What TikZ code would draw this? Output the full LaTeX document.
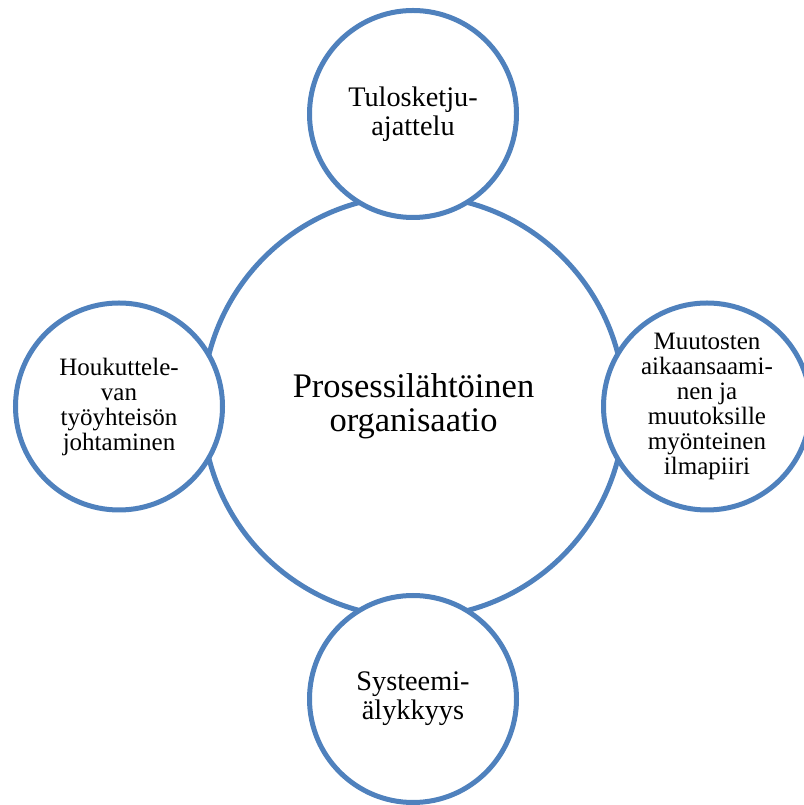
\documentclass[tikz,border=0pt]{standalone}
\usepackage{fontspec}
\setmainfont{Liberation Serif}
\definecolor{ringblue}{RGB}{79,129,189}
\begin{document}
\begin{tikzpicture}[x=1pt,y=1pt,
  ring/.style={circle,draw=ringblue,line width=5pt,fill=white,inner sep=0pt,align=center},
  bigring/.style={ring,minimum size=422pt,font=\fontsize{34.5}{34}\selectfont},
  midring/.style={ring,minimum size=207pt,font=\fontsize{28.3}{29}\selectfont},
  smallring/.style={ring,minimum size=207pt,font=\fontsize{25}{25}\selectfont}]
\useasboundingbox (0,0) rectangle (803,805);
\node[bigring] (c) at (413.5,398.5) {Prosessilähtöinen\\organisaatio};
\node[midring] (t) at (413,691) {Tulosketju-\\ajattelu};
\node[midring] (b) at (413,106) {Systeemi-\\älykkyys};
\node[smallring] (l) at (119,398.5) {Houkuttele-\\van\\työyhteisön\\johtaminen};
\node[smallring] (r) at (707,398.5) {Muutosten\\aikaansaami-\\nen ja\\muutoksille\\myönteinen\\ilmapiiri};
\end{tikzpicture}
\end{document}
